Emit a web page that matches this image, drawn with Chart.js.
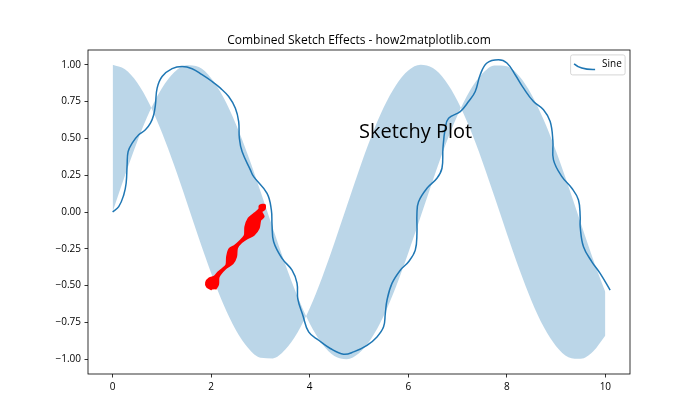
<!DOCTYPE html>
<html>
<head>
<meta charset="utf-8">
<script src="https://cdn.jsdelivr.net/npm/chart.js@4/dist/chart.umd.min.js"></script>
<style>
html,body{margin:0;padding:0;background:#fff;}
canvas{display:block;}
</style>
</head>
<body>
<canvas id="c" width="700" height="420"></canvas>
<script>
// ---- data ----
const chartTitle = "Combined Sketch Effects - how2matplotlib.com";
const annotationText = "Sketchy Plot";
const annotationX = 5;
const annotationY = 0.5;
const legendLabel = "Sine";

const xTicks = [0, 2, 4, 6, 8, 10];
const yTicks = [-1.0, -0.75, -0.5, -0.25, 0.0, 0.25, 0.5, 0.75, 1.0];

// band boundaries (light blue area)
const bandX = [0, 0.25, 0.5, 0.75, 1, 1.25, 1.5, 1.75, 2, 2.25, 2.5, 2.75, 3, 3.25, 3.5, 3.75, 4, 4.25, 4.5, 4.75,
  5, 5.25, 5.5, 5.75, 6, 6.25, 6.5, 6.75, 7, 7.25, 7.5, 7.75, 8, 8.25, 8.5, 8.75, 9, 9.25, 9.5, 9.75, 10];
const bandA = [0.000, 0.247, 0.479, 0.682, 0.841, 0.949, 0.997, 0.984, 0.909, 0.778, 0.598, 0.382, 0.141, -0.108,
  -0.351, -0.572, -0.757, -0.895, -0.978, -0.999, -0.959, -0.859, -0.706, -0.508, -0.279, -0.033, 0.215, 0.451,
  0.657, 0.823, 0.938, 0.995, 0.989, 0.923, 0.798, 0.624, 0.412, 0.174, -0.075, -0.320, -0.544];
const bandB = [1.000, 0.969, 0.878, 0.732, 0.540, 0.315, 0.071, -0.178, -0.416, -0.628, -0.801, -0.924, -0.990,
  -0.994, -0.936, -0.820, -0.654, -0.446, -0.211, 0.037, 0.284, 0.512, 0.709, 0.861, 0.960, 0.999, 0.977, 0.893,
  0.754, 0.568, 0.347, 0.103, -0.146, -0.386, -0.602, -0.781, -0.911, -0.986, -0.997, -0.948, -0.839];

// wobbly "Sine" line
const sineX = [0, 0.124, 0.225, 0.274, 0.294, 0.314, 0.396, 0.529, 0.665, 0.767, 0.834, 0.868, 0.903, 1.004, 1.207,
  1.410, 1.613, 1.815, 2.018, 2.187, 2.355, 2.491, 2.558, 2.572, 2.627, 2.795, 2.862, 3.134, 3.221, 3.235, 3.268,
  3.438, 3.641, 3.742, 3.759, 3.860, 3.978, 4.181, 4.418, 4.688, 4.890, 5.162, 5.365, 5.499, 5.534, 5.568, 5.669,
  5.838, 6.006, 6.142, 6.176, 6.176, 6.209, 6.379, 6.582, 6.684, 6.704, 6.751, 6.818, 7.055, 7.223, 7.359, 7.460,
  7.596, 7.832, 8.002, 8.170, 8.339, 8.542, 8.744, 8.880, 8.935, 8.947, 9.118, 9.320, 9.454, 9.489, 9.489, 9.556,
  9.726, 9.894, 10.097];
const sineY = [0.000, 0.036, 0.116, 0.195, 0.320, 0.410, 0.467, 0.524, 0.558, 0.603, 0.660, 0.728, 0.841, 0.920,
  0.973, 0.988, 0.973, 0.932, 0.886, 0.841, 0.784, 0.705, 0.614, 0.501, 0.410, 0.286, 0.240, 0.127, 0.014, -0.088,
  -0.202, -0.315, -0.395, -0.483, -0.592, -0.701, -0.814, -0.871, -0.927, -0.966, -0.950, -0.905, -0.848, -0.780,
  -0.689, -0.599, -0.485, -0.395, -0.338, -0.259, -0.145, -0.009, 0.070, 0.161, 0.229, 0.297, 0.433, 0.569, 0.637,
  0.682, 0.750, 0.818, 0.932, 1.012, 1.034, 1.012, 0.932, 0.841, 0.750, 0.694, 0.614, 0.483, 0.354, 0.240, 0.161,
  0.082, -0.032, -0.100, -0.236, -0.338, -0.417, -0.531];

// red sketchy stroke outline
const redX = [2.018, 1.917, 1.897, 1.963, 2.071, 2.140, 2.221, 2.308, 2.323, 2.369, 2.477, 2.572, 2.680, 2.694,
  2.761, 2.882, 2.978, 2.984, 3.085, 3.085, 3.018, 3.065, 2.998, 2.963, 2.862, 2.728, 2.613, 2.525, 2.505, 2.436,
  2.288, 2.152, 2.140, 2.085];
const redY = [-0.526, -0.508, -0.478, -0.451, -0.437, -0.410, -0.388, -0.361, -0.304, -0.252, -0.229, -0.202,
  -0.161, -0.100, -0.043, -0.009, 0.020, 0.043, 0.048, 0.020, 0.002, -0.032, -0.054, -0.111, -0.156, -0.179,
  -0.206, -0.243, -0.304, -0.349, -0.383, -0.440, -0.492, -0.524];

// ---- rendering ----
const FONT = "'Open Sans', 'Noto Sans', 'DejaVu Sans', sans-serif";
const C0 = '#1f77b4';
const pts = (xs, ys) => xs.map((x, i) => ({x: x, y: ys[i]}));
const fmtY = v => (v < 0 ? '\u2212' : '') + Math.abs(v).toFixed(2);

const decorations = {
  id: 'decorations',
  afterDatasetsDraw(chart) {
    const {ctx, scales} = chart;
    ctx.save();
    ctx.fillStyle = '#000';
    ctx.font = '20px ' + FONT;
    ctx.textAlign = 'left';
    ctx.textBaseline = 'alphabetic';
    ctx.fillText(annotationText, scales.x.getPixelForValue(annotationX), scales.y.getPixelForValue(annotationY));
    ctx.restore();
  },
  afterDraw(chart) {
    const {ctx, chartArea: a} = chart;
    ctx.save();
    // frame
    ctx.strokeStyle = '#000';
    ctx.lineWidth = 0.8;
    ctx.strokeRect(a.left, a.top, a.right - a.left, a.bottom - a.top);
    // title
    ctx.fillStyle = '#000';
    ctx.font = '12px ' + FONT;
    ctx.textAlign = 'center';
    ctx.textBaseline = 'alphabetic';
    ctx.fillText(chartTitle, (a.left + a.right) / 2, a.top - 5.8);
    // legend
    const bw = 54.5, bh = 20;
    const bx = a.right - 4.9 - bw, by = a.top + 4.9;
    ctx.beginPath();
    if (ctx.roundRect) ctx.roundRect(bx, by, bw, bh, 2); else ctx.rect(bx, by, bw, bh);
    ctx.fillStyle = 'rgba(255,255,255,0.8)';
    ctx.fill();
    ctx.strokeStyle = '#cccccc';
    ctx.lineWidth = 0.8;
    ctx.stroke();
    ctx.beginPath();
    ctx.moveTo(bx + 3.5, by + 9);
    ctx.quadraticCurveTo(bx + 10, by + 15, bx + 24.5, by + 14.5);
    ctx.strokeStyle = C0;
    ctx.lineWidth = 1.5;
    ctx.stroke();
    ctx.fillStyle = '#000';
    ctx.font = '10px ' + FONT;
    ctx.textAlign = 'left';
    ctx.textBaseline = 'middle';
    ctx.fillText(legendLabel, bx + 31.5, by + 9.5);
    ctx.restore();
  }
};

new Chart(document.getElementById('c'), {
  type: 'line',
  data: {
    datasets: [
      {
        label: legendLabel,
        data: pts(sineX, sineY),
        borderColor: C0,
        borderWidth: 1.5,
        pointRadius: 0,
        tension: 0.4,
        fill: false
      },
      {
        label: 'red',
        data: pts(redX, redY),
        borderColor: '#ff0000',
        backgroundColor: '#ff0000',
        borderWidth: 2,
        pointRadius: 0,
        tension: 0.3,
        fill: 'shape'
      },
      {
        label: 'bandA',
        data: pts(bandX, bandA),
        borderWidth: 0,
        borderColor: 'rgba(0,0,0,0)',
        backgroundColor: 'rgba(31,119,180,0.3)',
        pointRadius: 0,
        cubicInterpolationMode: 'monotone',
        fill: '+1'
      },
      {
        label: 'bandB',
        data: pts(bandX, bandB),
        borderWidth: 0,
        borderColor: 'rgba(0,0,0,0)',
        pointRadius: 0,
        cubicInterpolationMode: 'monotone',
        fill: false
      }
    ]
  },
  options: {
    responsive: false,
    animation: false,
    devicePixelRatio: 1,
    layout: {padding: {top: 50, right: 70, left: 0, bottom: 0}},
    plugins: {legend: {display: false}, tooltip: {enabled: false}, title: {display: false}},
    scales: {
      x: {
        type: 'linear',
        min: -0.5, max: 10.5,
        afterBuildTicks: s => { s.ticks = xTicks.map(v => ({value: v})); },
        afterFit: s => { s.height = 46; },
        ticks: {callback: v => String(v), color: '#000', font: {family: FONT, size: 10}, padding: 3.5,
                maxRotation: 0, autoSkip: false},
        grid: {drawOnChartArea: false, drawTicks: true, tickLength: 3.5, tickColor: '#000', tickWidth: 0.8},
        border: {display: false}
      },
      y: {
        type: 'linear',
        min: -1.1, max: 1.1,
        afterBuildTicks: s => { s.ticks = yTicks.map(v => ({value: v})); },
        afterFit: s => { s.width = 88; },
        ticks: {callback: v => fmtY(v), color: '#000', font: {family: FONT, size: 10}, padding: 3.5, autoSkip: false},
        grid: {drawOnChartArea: false, drawTicks: true, tickLength: 3.5, tickColor: '#000', tickWidth: 0.8},
        border: {display: false}
      }
    }
  },
  plugins: [decorations]
});
</script>
</body>
</html>
